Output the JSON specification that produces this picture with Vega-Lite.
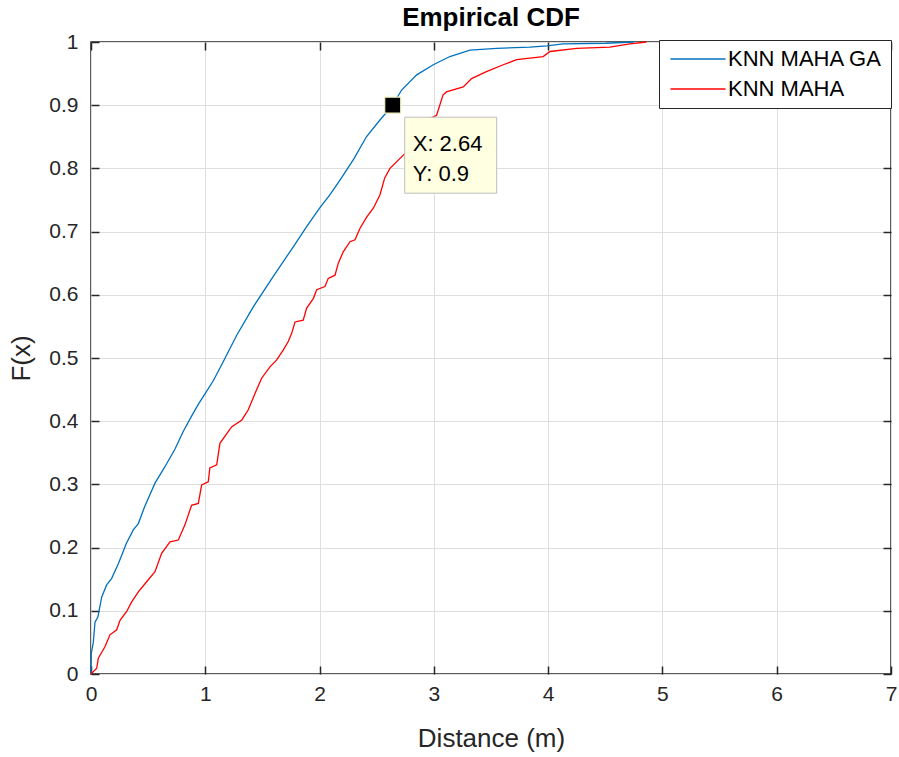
{
  "$schema": "https://vega.github.io/schema/vega-lite/v6.json",
  "width": 800,
  "height": 632,
  "autosize": {"type": "none"},
  "padding": {"left": 91, "top": 42, "right": 8, "bottom": 83},
  "background": "white",
  "title": {
    "text": "Empirical CDF",
    "font": "Liberation Sans",
    "fontSize": 26,
    "fontWeight": "bold",
    "color": "#000000",
    "anchor": "middle",
    "baseline": "alphabetic",
    "offset": -21
  },
  "config": {
    "view": {"stroke": "#262626", "strokeWidth": 1.5},
    "axis": {
      "domain": false,
      "labelFont": "Liberation Sans",
      "labelFontSize": 21,
      "labelColor": "#262626",
      "labelFlush": false,
      "titleFont": "Liberation Sans",
      "titleFontSize": 26,
      "titleFontWeight": "normal",
      "titleColor": "#262626",
      "gridColor": "#dedede",
      "gridWidth": 1,
      "tickColor": "#262626",
      "tickWidth": 1.5,
      "tickSize": -8
    }
  },
  "datasets": {
    "ecdf": [
      {"method": "KNN MAHA GA", "distance": 0, "F": 0},
      {"method": "KNN MAHA GA", "distance": 0.003, "F": 0.033},
      {"method": "KNN MAHA GA", "distance": 0.02, "F": 0.05},
      {"method": "KNN MAHA GA", "distance": 0.035, "F": 0.082},
      {"method": "KNN MAHA GA", "distance": 0.06, "F": 0.09},
      {"method": "KNN MAHA GA", "distance": 0.094, "F": 0.122},
      {"method": "KNN MAHA GA", "distance": 0.137, "F": 0.141},
      {"method": "KNN MAHA GA", "distance": 0.18, "F": 0.151},
      {"method": "KNN MAHA GA", "distance": 0.24, "F": 0.175},
      {"method": "KNN MAHA GA", "distance": 0.31, "F": 0.207},
      {"method": "KNN MAHA GA", "distance": 0.37, "F": 0.228},
      {"method": "KNN MAHA GA", "distance": 0.414, "F": 0.238},
      {"method": "KNN MAHA GA", "distance": 0.47, "F": 0.265},
      {"method": "KNN MAHA GA", "distance": 0.56, "F": 0.302},
      {"method": "KNN MAHA GA", "distance": 0.647, "F": 0.328},
      {"method": "KNN MAHA GA", "distance": 0.735, "F": 0.356},
      {"method": "KNN MAHA GA", "distance": 0.808, "F": 0.384},
      {"method": "KNN MAHA GA", "distance": 0.88, "F": 0.408},
      {"method": "KNN MAHA GA", "distance": 0.94, "F": 0.427},
      {"method": "KNN MAHA GA", "distance": 1.0, "F": 0.444},
      {"method": "KNN MAHA GA", "distance": 1.07, "F": 0.464},
      {"method": "KNN MAHA GA", "distance": 1.157, "F": 0.494},
      {"method": "KNN MAHA GA", "distance": 1.275, "F": 0.536},
      {"method": "KNN MAHA GA", "distance": 1.42, "F": 0.581},
      {"method": "KNN MAHA GA", "distance": 1.595, "F": 0.629},
      {"method": "KNN MAHA GA", "distance": 1.77, "F": 0.676},
      {"method": "KNN MAHA GA", "distance": 1.887, "F": 0.708},
      {"method": "KNN MAHA GA", "distance": 2.0, "F": 0.737},
      {"method": "KNN MAHA GA", "distance": 2.09, "F": 0.758},
      {"method": "KNN MAHA GA", "distance": 2.18, "F": 0.782},
      {"method": "KNN MAHA GA", "distance": 2.3, "F": 0.815},
      {"method": "KNN MAHA GA", "distance": 2.41, "F": 0.85},
      {"method": "KNN MAHA GA", "distance": 2.53, "F": 0.877},
      {"method": "KNN MAHA GA", "distance": 2.64, "F": 0.9},
      {"method": "KNN MAHA GA", "distance": 2.718, "F": 0.924},
      {"method": "KNN MAHA GA", "distance": 2.85, "F": 0.948},
      {"method": "KNN MAHA GA", "distance": 2.995, "F": 0.964},
      {"method": "KNN MAHA GA", "distance": 3.14, "F": 0.977},
      {"method": "KNN MAHA GA", "distance": 3.316, "F": 0.987},
      {"method": "KNN MAHA GA", "distance": 3.55, "F": 0.99},
      {"method": "KNN MAHA GA", "distance": 3.84, "F": 0.992},
      {"method": "KNN MAHA GA", "distance": 3.99, "F": 0.994},
      {"method": "KNN MAHA GA", "distance": 4.13, "F": 0.997},
      {"method": "KNN MAHA GA", "distance": 4.5, "F": 0.998},
      {"method": "KNN MAHA GA", "distance": 4.75, "F": 1.0},
      {"method": "KNN MAHA", "distance": 0, "F": 0},
      {"method": "KNN MAHA", "distance": 0.05, "F": 0.009},
      {"method": "KNN MAHA", "distance": 0.064, "F": 0.025},
      {"method": "KNN MAHA", "distance": 0.122, "F": 0.043},
      {"method": "KNN MAHA", "distance": 0.166, "F": 0.062},
      {"method": "KNN MAHA", "distance": 0.225, "F": 0.07},
      {"method": "KNN MAHA", "distance": 0.254, "F": 0.085},
      {"method": "KNN MAHA", "distance": 0.312, "F": 0.099},
      {"method": "KNN MAHA", "distance": 0.356, "F": 0.114},
      {"method": "KNN MAHA", "distance": 0.414, "F": 0.13},
      {"method": "KNN MAHA", "distance": 0.487, "F": 0.146},
      {"method": "KNN MAHA", "distance": 0.56, "F": 0.162},
      {"method": "KNN MAHA", "distance": 0.618, "F": 0.191},
      {"method": "KNN MAHA", "distance": 0.691, "F": 0.209},
      {"method": "KNN MAHA", "distance": 0.764, "F": 0.212},
      {"method": "KNN MAHA", "distance": 0.822, "F": 0.236},
      {"method": "KNN MAHA", "distance": 0.88, "F": 0.267},
      {"method": "KNN MAHA", "distance": 0.939, "F": 0.27},
      {"method": "KNN MAHA", "distance": 0.968, "F": 0.299},
      {"method": "KNN MAHA", "distance": 1.026, "F": 0.304},
      {"method": "KNN MAHA", "distance": 1.04, "F": 0.326},
      {"method": "KNN MAHA", "distance": 1.1, "F": 0.331},
      {"method": "KNN MAHA", "distance": 1.128, "F": 0.365},
      {"method": "KNN MAHA", "distance": 1.23, "F": 0.391},
      {"method": "KNN MAHA", "distance": 1.32, "F": 0.402},
      {"method": "KNN MAHA", "distance": 1.376, "F": 0.418},
      {"method": "KNN MAHA", "distance": 1.435, "F": 0.444},
      {"method": "KNN MAHA", "distance": 1.493, "F": 0.468},
      {"method": "KNN MAHA", "distance": 1.566, "F": 0.486},
      {"method": "KNN MAHA", "distance": 1.625, "F": 0.497},
      {"method": "KNN MAHA", "distance": 1.683, "F": 0.513},
      {"method": "KNN MAHA", "distance": 1.726, "F": 0.526},
      {"method": "KNN MAHA", "distance": 1.756, "F": 0.539},
      {"method": "KNN MAHA", "distance": 1.785, "F": 0.557},
      {"method": "KNN MAHA", "distance": 1.857, "F": 0.56},
      {"method": "KNN MAHA", "distance": 1.887, "F": 0.579},
      {"method": "KNN MAHA", "distance": 1.945, "F": 0.594},
      {"method": "KNN MAHA", "distance": 1.975, "F": 0.608},
      {"method": "KNN MAHA", "distance": 2.047, "F": 0.613},
      {"method": "KNN MAHA", "distance": 2.076, "F": 0.626},
      {"method": "KNN MAHA", "distance": 2.135, "F": 0.631},
      {"method": "KNN MAHA", "distance": 2.164, "F": 0.65},
      {"method": "KNN MAHA", "distance": 2.207, "F": 0.668},
      {"method": "KNN MAHA", "distance": 2.266, "F": 0.684},
      {"method": "KNN MAHA", "distance": 2.31, "F": 0.687},
      {"method": "KNN MAHA", "distance": 2.353, "F": 0.705},
      {"method": "KNN MAHA", "distance": 2.412, "F": 0.723},
      {"method": "KNN MAHA", "distance": 2.47, "F": 0.737},
      {"method": "KNN MAHA", "distance": 2.528, "F": 0.758},
      {"method": "KNN MAHA", "distance": 2.57, "F": 0.785},
      {"method": "KNN MAHA", "distance": 2.616, "F": 0.8},
      {"method": "KNN MAHA", "distance": 2.733, "F": 0.821},
      {"method": "KNN MAHA", "distance": 2.85, "F": 0.842},
      {"method": "KNN MAHA", "distance": 2.966, "F": 0.879},
      {"method": "KNN MAHA", "distance": 3.024, "F": 0.884},
      {"method": "KNN MAHA", "distance": 3.08, "F": 0.916},
      {"method": "KNN MAHA", "distance": 3.11, "F": 0.921},
      {"method": "KNN MAHA", "distance": 3.257, "F": 0.929},
      {"method": "KNN MAHA", "distance": 3.33, "F": 0.942},
      {"method": "KNN MAHA", "distance": 3.46, "F": 0.953},
      {"method": "KNN MAHA", "distance": 3.607, "F": 0.964},
      {"method": "KNN MAHA", "distance": 3.724, "F": 0.972},
      {"method": "KNN MAHA", "distance": 3.957, "F": 0.977},
      {"method": "KNN MAHA", "distance": 4.016, "F": 0.985},
      {"method": "KNN MAHA", "distance": 4.25, "F": 0.99},
      {"method": "KNN MAHA", "distance": 4.54, "F": 0.992},
      {"method": "KNN MAHA", "distance": 4.716, "F": 0.997},
      {"method": "KNN MAHA", "distance": 4.86, "F": 1.0}
    ],
    "tip": [{"x": 2.64, "y": 0.9}]
  },
  "layer": [
    {
      "data": {"name": "ecdf"},
      "mark": {"type": "line", "strokeWidth": 1.3},
      "encoding": {
        "x": {
          "field": "distance",
          "type": "quantitative",
          "scale": {"domain": [0, 7], "nice": false, "zero": false},
          "axis": {
            "orient": "bottom",
            "values": [0, 1, 2, 3, 4, 5, 6, 7],
            "format": "d",
            "title": "Distance (m)",
            "grid": true,
            "labelPadding": 17,
            "titlePadding": 21
          }
        },
        "y": {
          "field": "F",
          "type": "quantitative",
          "scale": {"domain": [0, 1], "nice": false},
          "axis": {
            "orient": "left",
            "values": [0, 0.1, 0.2, 0.3, 0.4, 0.5, 0.6, 0.7, 0.8, 0.9, 1],
            "labelExpr": "format(datum.value, '~g')",
            "title": "F(x)",
            "grid": true,
            "labelPadding": 21,
            "titlePadding": 14
          }
        },
        "color": {
          "field": "method",
          "type": "nominal",
          "sort": ["KNN MAHA GA", "KNN MAHA"],
          "scale": {"domain": ["KNN MAHA GA", "KNN MAHA"], "range": ["#0072BD", "#FF0000"]},
          "legend": {
            "orient": "none",
            "legendX": 568,
            "legendY": -2,
            "title": null,
            "symbolType": "M-3.67,0H3.67",
            "symbolSize": 225,
            "symbolStrokeWidth": 1.3,
            "symbolOffset": 20,
            "labelOffset": 19,
            "labelFont": "Liberation Sans",
            "labelFontSize": 22,
            "labelColor": "#000000",
            "labelLimit": 300,
            "padding": 8,
            "rowPadding": 8,
            "strokeColor": "#262626",
            "fillColor": "white",
            "cornerRadius": 0
          }
        }
      }
    },
    {
      "data": {"name": "tip"},
      "mark": {
        "type": "rect",
        "fill": "#ffffe1",
        "stroke": "#bdbdbd",
        "strokeWidth": 1,
        "xOffset": 12,
        "x2Offset": 104,
        "yOffset": 12,
        "y2Offset": 88
      },
      "encoding": {
        "x": {"field": "x", "type": "quantitative", "scale": {"domain": [0, 7], "nice": false, "zero": false}, "axis": null},
        "x2": {"field": "x"},
        "y": {"field": "y", "type": "quantitative", "scale": {"domain": [0, 1], "nice": false}, "axis": null},
        "y2": {"field": "y"}
      }
    },
    {
      "data": {"name": "tip"},
      "transform": [
        {"calculate": "['X: ' + datum.x, 'Y: ' + datum.y]", "as": "tipText"}
      ],
      "mark": {
        "type": "text",
        "align": "left",
        "baseline": "alphabetic",
        "dx": 20,
        "dy": 46,
        "lineHeight": 30,
        "font": "Liberation Sans",
        "fontSize": 22,
        "color": "#000000"
      },
      "encoding": {
        "x": {"field": "x", "type": "quantitative", "scale": {"domain": [0, 7], "nice": false, "zero": false}, "axis": null},
        "y": {"field": "y", "type": "quantitative", "scale": {"domain": [0, 1], "nice": false}, "axis": null},
        "text": {"field": "tipText"}
      }
    },
    {
      "data": {"name": "tip"},
      "mark": {
        "type": "point",
        "shape": "square",
        "filled": true,
        "size": 256,
        "fill": "#000000",
        "stroke": "#f2f2c4",
        "strokeWidth": 1.2,
        "opacity": 1
      },
      "encoding": {
        "x": {
          "field": "x",
          "type": "quantitative",
          "scale": {"domain": [0, 7], "nice": false, "zero": false},
          "axis": {"orient": "top", "values": [0, 1, 2, 3, 4, 5, 6, 7], "labels": false, "title": null, "grid": false, "minExtent": 0, "maxExtent": 0}
        },
        "y": {
          "field": "y",
          "type": "quantitative",
          "scale": {"domain": [0, 1], "nice": false},
          "axis": {"orient": "right", "values": [0, 0.1, 0.2, 0.3, 0.4, 0.5, 0.6, 0.7, 0.8, 0.9, 1], "labels": false, "title": null, "grid": false, "minExtent": 0, "maxExtent": 0}
        }
      }
    }
  ],
  "resolve": {"axis": {"x": "independent", "y": "independent"}}
}
